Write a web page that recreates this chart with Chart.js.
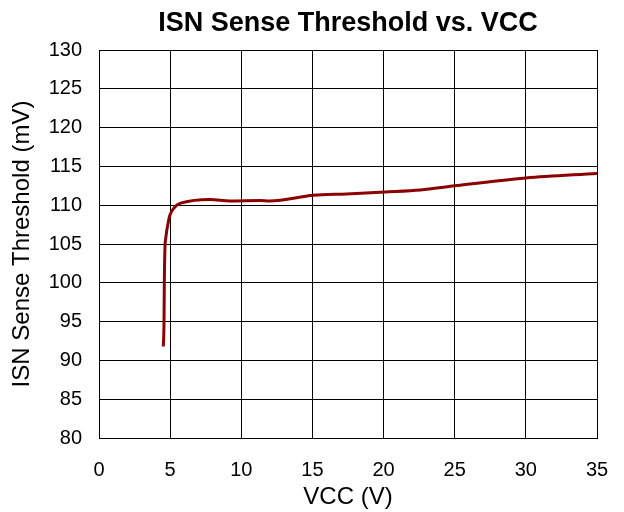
<!DOCTYPE html>
<html><head><meta charset="utf-8">
<script src="https://cdn.jsdelivr.net/npm/chart.js@4/dist/chart.umd.min.js"></script>
<style>html,body{margin:0;padding:0;background:#fff}#wrap{width:624px;height:512px}</style>
</head><body><div id="wrap"><canvas id="c" width="624" height="512"></canvas></div>
<script>
const vcc = [4.52, 4.57, 4.59, 4.64, 4.66, 4.92, 5.1, 5.46, 5.8, 7.8, 9.2, 11.3, 12.0, 15.06, 17.4, 20.1, 22.6, 25.0, 30.0, 35.0];
const threshold = [91.8, 95.0, 100.0, 104.8, 105.3, 108.3, 109.2, 110.0, 110.3, 110.75, 110.55, 110.6, 110.55, 111.27, 111.45, 111.7, 111.96, 112.5, 113.5, 114.1];
const xTicks = [0, 5, 10, 15, 20, 25, 30, 35];
const yTicks = [80, 85, 90, 95, 100, 105, 110, 115, 120, 125, 130];

const points = vcc.map((v, i) => ({x: v, y: threshold[i]}));
const FONT = "'Liberation Sans', Arial, sans-serif";

new Chart(document.getElementById('c'), {
  type: 'scatter',
  data: { datasets: [{ data: points, showLine: true, borderColor: '#8B0000', borderWidth: 3, pointRadius: 0, cubicInterpolationMode: 'monotone' }] },
  options: {
    responsive: false, animation: false,
    layout: { padding: { left: 8, right: 27, top: 7, bottom: 0 } },
    plugins: {
      legend: { display: false }, tooltip: { enabled: false },
      title: { display: true, fullSize: false, text: 'ISN Sense Threshold vs. VCC', color: '#000', font: { family: FONT, size: 27, weight: 'bold' }, padding: { top: 0, bottom: 10.6 } }
    },
    scales: {
      x: {
        type: 'linear', min: 0, max: 35,
        afterBuildTicks: s => { s.ticks = xTicks.map(v => ({value: v})); },
        ticks: { color: '#000', font: { family: FONT, size: 20 }, padding: 20 },
        grid: { color: '#000', lineWidth: 1, drawTicks: false },
        border: { color: '#000', width: 1 },
        title: { display: true, text: 'VCC (V)', color: '#000', font: { family: FONT, size: 24 }, padding: { top: 0, bottom: 0 } },
        afterFit: s => { s.height = 512 - 438; s.paddingLeft = 0; s.paddingRight = 0; }
      },
      y: {
        type: 'linear', min: 80, max: 130,
        afterBuildTicks: s => { s.ticks = yTicks.map(v => ({value: v})); },
        ticks: { color: '#000', font: { family: FONT, size: 20 }, padding: 17 },
        grid: { color: '#000', lineWidth: 1, drawTicks: false },
        border: { color: '#000', width: 1 },
        title: { display: true, text: 'ISN Sense Threshold (mV)', color: '#000', font: { family: FONT, size: 24 }, padding: { top: 0, bottom: 0 } },
        afterFit: s => { s.width = 99 - 8; s.paddingTop = 0; s.paddingBottom = 0; }
      }
    }
  }
});
</script></body></html>
